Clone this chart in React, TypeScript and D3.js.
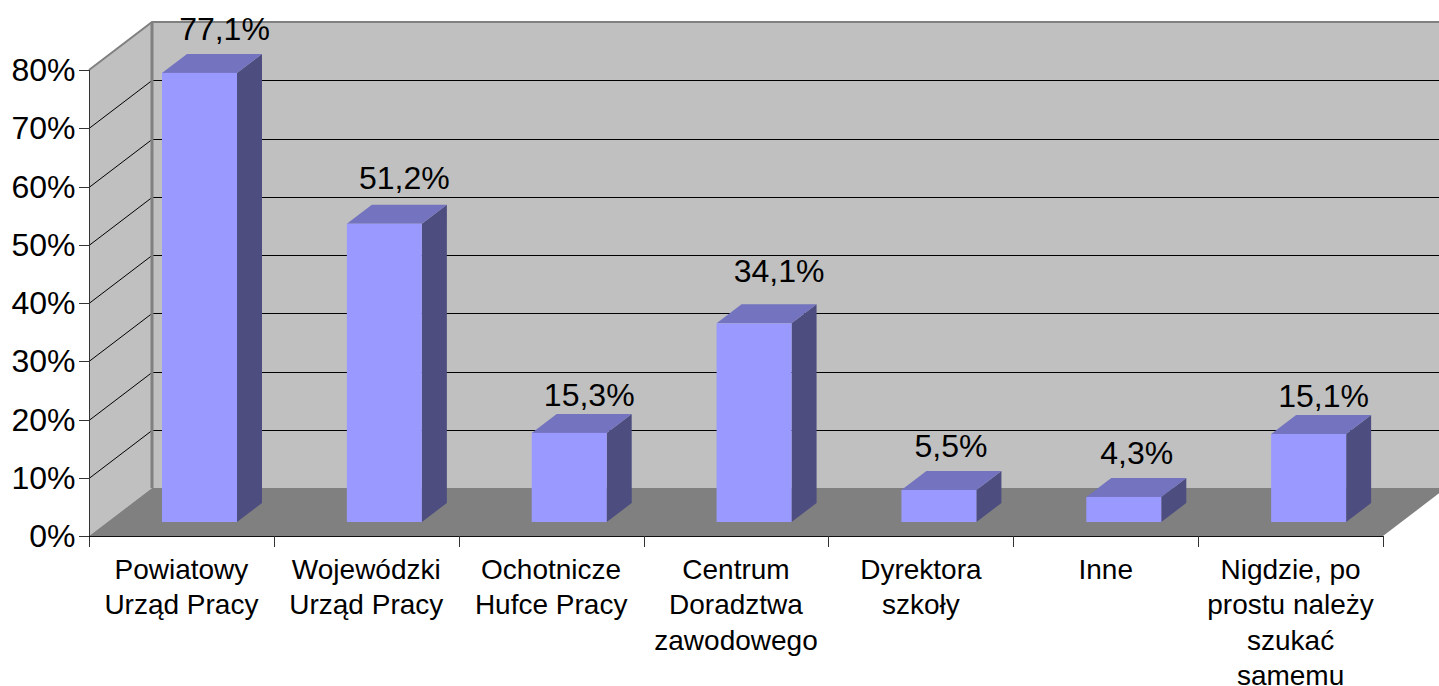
import React, { useEffect, useRef } from "react";
import * as d3 from "d3";

const categories: string[][] = [
  ["Powiatowy", "Urząd Pracy"],
  ["Wojewódzki", "Urząd Pracy"],
  ["Ochotnicze", "Hufce Pracy"],
  ["Centrum", "Doradztwa", "zawodowego"],
  ["Dyrektora", "szkoły"],
  ["Inne"],
  ["Nigdzie, po", "prostu należy", "szukać", "samemu"],
];
const values = [77.1, 51.2, 15.3, 34.1, 5.5, 4.3, 15.1];
const valueLabels = ["77,1%", "51,2%", "15,3%", "34,1%", "5,5%", "4,3%", "15,1%"];
const ticks = [0, 10, 20, 30, 40, 50, 60, 70, 80];
// labels in the source do not sit exactly over the bar's back edge centre
const labelNudgeX = [0, -5, -5, 0, -13, -12, -10];
const labelNudgeY = [0, -2, 6, -8, 0, 0, 6];

const FONT = "'Liberation Sans', Arial, sans-serif";

const App = () => {
  const svgRef = useRef<SVGSVGElement>(null);

  useEffect(() => {
    const svg = d3.select(svgRef.current);
    svg.selectAll("*").remove();

    // Front plane of the 3D box and the depth offset to the back wall
    const left = 89;
    const right = 1383;
    const depthX = 63;
    const depthY = -48;

    const xScale = d3
      .scaleBand<number>()
      .domain(d3.range(categories.length))
      .range([left, right]);
    const yScale = d3.scaleLinear().domain([0, 80]).range([536, 70]);
    const y0 = yScale(0);
    const yTop = yScale(80);

    const poly = (pts: number[][], fill: string) =>
      svg.append("polygon").attr("points", pts.join(" ")).attr("fill", fill);

    // Back wall
    poly(
      [
        [left + depthX, yTop + depthY],
        [right + depthX, yTop + depthY],
        [right + depthX, y0 + depthY],
        [left + depthX, y0 + depthY],
      ],
      "#c0c0c0"
    );
    // Side wall
    poly(
      [
        [left, yTop],
        [left + depthX, yTop + depthY],
        [left + depthX, y0 + depthY],
        [left, y0],
      ],
      "#c0c0c0"
    );
    // Floor
    poly(
      [
        [left, y0],
        [left + depthX, y0 + depthY],
        [right + depthX, y0 + depthY],
        [right, y0],
      ],
      "#808080"
    );

    // Grid lines, along the side wall and the back wall
    ticks.slice(1, -1).forEach((t) => {
      const y = Math.round(yScale(t)) + 0.5;
      svg
        .append("polyline")
        .attr(
          "points",
          [
            [left, y],
            [left + depthX, y + depthY],
            [right + depthX, y + depthY],
          ].join(" ")
        )
        .attr("fill", "none")
        .attr("stroke", "#000")
        .attr("stroke-width", 1);
    });

    // Wall outline
    svg
      .append("polyline")
      .attr(
        "points",
        [
          [left, yTop],
          [left + depthX, yTop + depthY],
          [right + depthX, yTop + depthY],
        ].join(" ")
      )
      .attr("fill", "none")
      .attr("stroke", "#808080")
      .attr("stroke-width", 2);
    svg
      .append("line")
      .attr("x1", left + depthX)
      .attr("x2", left + depthX)
      .attr("y1", yTop + depthY)
      .attr("y2", y0 + depthY)
      .attr("stroke", "#808080")
      .attr("stroke-width", 3);

    // Bars
    const barOffset = 73;
    const barWidth = 75;
    const barDepthX = 25;
    const barDepthY = -19;
    const barBase = 14; // floor gap in front of the bars

    values.forEach((v, i) => {
      const x0 = (xScale(i) as number) + barOffset;
      const x1 = x0 + barWidth;
      const bottom = y0 - barBase;
      const top = yScale(v) - barBase;

      poly(
        [
          [x1, top],
          [x1 + barDepthX, top + barDepthY],
          [x1 + barDepthX, bottom + barDepthY],
          [x1, bottom],
        ],
        "#4d4d80"
      );
      poly(
        [
          [x0, top],
          [x0 + barDepthX, top + barDepthY],
          [x1 + barDepthX, top + barDepthY],
          [x1, top],
        ],
        "#7373bf"
      );
      svg
        .append("rect")
        .attr("x", x0)
        .attr("y", top)
        .attr("width", barWidth)
        .attr("height", bottom - top)
        .attr("fill", "#9999ff");

      svg
        .append("text")
        .attr("x", x0 + barWidth / 2 + barDepthX + labelNudgeX[i])
        .attr("y", top + barDepthY - 14 + labelNudgeY[i])
        .attr("text-anchor", "middle")
        .attr("font-family", FONT)
        .attr("font-size", 32)
        .attr("fill", "#000")
        .text(valueLabels[i]);
    });

    // Axis lines and tick marks
    const axisColor = "#333";
    svg
      .append("line")
      .attr("x1", left + 0.5)
      .attr("x2", left + 0.5)
      .attr("y1", yTop)
      .attr("y2", y0 + 11)
      .attr("stroke", axisColor)
      .attr("stroke-width", 1);
    svg
      .append("line")
      .attr("x1", left)
      .attr("x2", right)
      .attr("y1", y0 + 0.5)
      .attr("y2", y0 + 0.5)
      .attr("stroke", "#111")
      .attr("stroke-width", 1);

    ticks.forEach((t) => {
      const y = Math.round(yScale(t)) + 0.5;
      svg
        .append("line")
        .attr("x1", left - 10)
        .attr("x2", left)
        .attr("y1", y)
        .attr("y2", y)
        .attr("stroke", axisColor);
      svg
        .append("text")
        .attr("x", 75.5)
        .attr("y", yScale(t) + 11)
        .attr("text-anchor", "end")
        .attr("font-family", FONT)
        .attr("font-size", 32)
        .attr("fill", "#000")
        .text(`${t}%`);
    });

    categories.forEach((lines, i) => {
      const bx = xScale(i) as number;
      svg
        .append("line")
        .attr("x1", Math.round(bx + xScale.bandwidth()) + 0.5)
        .attr("x2", Math.round(bx + xScale.bandwidth()) + 0.5)
        .attr("y1", y0)
        .attr("y2", y0 + 11)
        .attr("stroke", axisColor);
      lines.forEach((line, j) => {
        svg
          .append("text")
          .attr("x", bx + xScale.bandwidth() / 2)
          .attr("y", 579 + j * 35.3)
          .attr("text-anchor", "middle")
          .attr("font-family", FONT)
          .attr("font-size", 28)
          .attr("fill", "#000")
          .text(line);
      });
    });
  }, []);

  return (
    <svg
      ref={svgRef}
      width={1439}
      height={686}
      style={{ position: "absolute", left: 0, top: 0, background: "#fff" }}
    />
  );
};

export default App;
